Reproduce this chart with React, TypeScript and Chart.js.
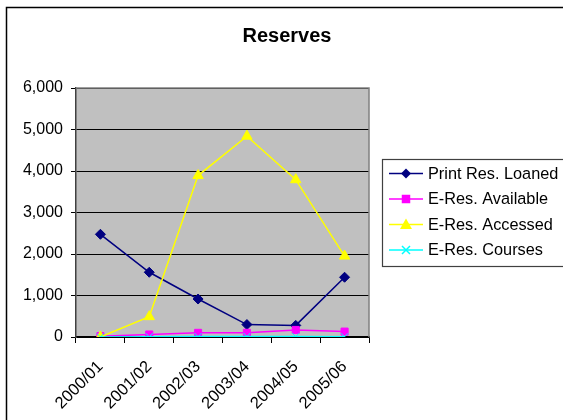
import React, { useEffect, useRef } from "react";
import { Chart, registerables } from "chart.js";

Chart.register(...registerables);

const categories = ["2000/01", "2001/02", "2002/03", "2003/04", "2004/05", "2005/06"];
const printLoaned = [2475, 1560, 915, 300, 280, 1440];
const eAvailable = [20, 60, 100, 100, 170, 130];
const eAccessed = [0, 490, 3890, 4840, 3790, 1950];
const eCourses = [0, 5, 10, 15, 10, 5];
const yTicks = [0, 1000, 2000, 3000, 4000, 5000, 6000];
const titleText = "Reserves";

const FONT = "'Liberation Sans', Arial, sans-serif";

function drawMarker(ctx: CanvasRenderingContext2D, style: string, x: number, y: number, r: number, color: string) {
  ctx.save();
  ctx.fillStyle = color;
  ctx.strokeStyle = color;
  ctx.lineWidth = 1.5;
  ctx.beginPath();
  if (style === "rectRot") {
    ctx.moveTo(x, y - r);
    ctx.lineTo(x + r, y);
    ctx.lineTo(x, y + r);
    ctx.lineTo(x - r, y);
    ctx.closePath();
    ctx.fill();
  } else if (style === "rect") {
    const s = r * 0.85;
    ctx.rect(x - s, y - s, 2 * s, 2 * s);
    ctx.fill();
  } else if (style === "triangle") {
    ctx.moveTo(x, y - r);
    ctx.lineTo(x + r, y + r * 0.75);
    ctx.lineTo(x - r, y + r * 0.75);
    ctx.closePath();
    ctx.fill();
  } else {
    const s = r * 0.8;
    ctx.moveTo(x - s, y - s);
    ctx.lineTo(x + s, y + s);
    ctx.moveTo(x + s, y - s);
    ctx.lineTo(x - s, y + s);
    ctx.stroke();
  }
  ctx.restore();
}

const framePlugin = {
  id: "frame",
  beforeDraw(chart: any) {
    const { ctx, chartArea } = chart;
    ctx.save();
    ctx.fillStyle = "#ffffff";
    ctx.fillRect(0, 0, chart.width, chart.height);
    ctx.fillStyle = "#C0C0C0";
    ctx.fillRect(chartArea.left, chartArea.top, chartArea.right - chartArea.left, chartArea.bottom - chartArea.top);
    ctx.strokeStyle = "#000000";
    ctx.lineWidth = 1.5;
    ctx.beginPath();
    ctx.moveTo(6.5, chart.height);
    ctx.lineTo(6.5, 7.5);
    ctx.lineTo(chart.width, 7.5);
    ctx.stroke();
    ctx.restore();
  },
  afterDraw(chart: any) {
    const { ctx, chartArea } = chart;
    ctx.save();
    ctx.strokeStyle = "#808080";
    ctx.lineWidth = 1.5;
    ctx.beginPath();
    ctx.moveTo(chartArea.left, chartArea.top);
    ctx.lineTo(chartArea.right, chartArea.top);
    ctx.lineTo(chartArea.right, chartArea.bottom);
    ctx.stroke();
    ctx.fillStyle = "#000";
    ctx.font = `bold 20px ${FONT}`;
    ctx.textAlign = "center";
    ctx.textBaseline = "alphabetic";
    ctx.fillText(titleText, 287, 42);
    const bx = 382.5, by = 159.5, bw = 200, bh = 107;
    ctx.fillStyle = "#ffffff";
    ctx.fillRect(bx, by, bw, bh);
    ctx.strokeStyle = "#404040";
    ctx.lineWidth = 1.2;
    ctx.strokeRect(bx, by, bw, bh);
    const ys = [173.5, 199, 224.5, 250];
    chart.data.datasets.forEach((ds: any, i: number) => {
      const y = ys[i];
      ctx.strokeStyle = ds.borderColor;
      ctx.lineWidth = 1.5;
      ctx.beginPath();
      ctx.moveTo(389, y);
      ctx.lineTo(423, y);
      ctx.stroke();
      drawMarker(ctx, ds.pointStyle, 406, y, ds.pointRadius, ds.borderColor);
      ctx.fillStyle = "#000";
      ctx.font = `16.3px ${FONT}`;
      ctx.textAlign = "left";
      ctx.textBaseline = "middle";
      ctx.fillText(ds.label, 428, y + 1);
    });
    ctx.restore();
  },
};

export default function App() {
  const ref = useRef<HTMLCanvasElement>(null);
  useEffect(() => {
    if (!ref.current) return;
    const mk = (label: string, data: number[], color: string, pointStyle: string, radius: number, order: number) => ({
      label,
      data,
      borderColor: color,
      backgroundColor: color,
      pointBackgroundColor: color,
      pointBorderColor: color,
      pointStyle,
      pointRadius: radius,
      pointBorderWidth: 1,
      borderWidth: 1.5,
      tension: 0,
      order,
    });
    const chart = new Chart(ref.current, {
      type: "line",
      data: {
        labels: categories,
        datasets: [
          mk("Print Res. Loaned", printLoaned, "#000080", "rectRot", 5, 4),
          mk("E-Res. Available", eAvailable, "#FF00FF", "rect", 5, 3),
          mk("E-Res. Accessed", eAccessed, "#FFFF00", "triangle", 6, 2),
          mk("E-Res. Courses", eCourses, "#00FFFF", "crossRot", 5, 1),
        ] as any,
      },
      options: {
        responsive: false,
        animation: false,
        layout: { padding: { left: 0, right: 194, top: 88, bottom: 0 } },
        plugins: {
          legend: { display: false },
          title: { display: false },
          tooltip: { enabled: false },
        },
        scales: {
          x: {
            type: "category",
            offset: true,
            grid: {
              offset: true,
              drawOnChartArea: false,
              drawTicks: true,
              tickLength: 6,
              color: "#000",
            },
            border: { color: "#000", width: 1.5 },
            ticks: {
              color: "#000",
              font: { family: FONT, size: 16.5 },
              maxRotation: 45,
              minRotation: 45,
              padding: 14,
              autoSkip: false,
            },
            afterFit: (s: any) => {
              s.height = 83;
            },
          },
          y: {
            min: 0,
            max: 6000,
            afterBuildTicks: (s: any) => {
              s.ticks = yTicks.map((v) => ({ value: v }));
            },
            grid: {
              color: "#000",
              lineWidth: 1,
              tickLength: 5,
              drawTicks: true,
            },
            border: { color: "#404040", width: 1.5 },
            ticks: {
              color: "#000",
              font: { family: FONT, size: 16 },
              padding: 8,
              callback: (v: any) => Number(v).toLocaleString("en-US"),
            },
            afterFit: (s: any) => {
              s.width = 76;
            },
          },
        },
      },
      plugins: [framePlugin],
    });
    return () => chart.destroy();
  }, []);
  return (
    <div style={{ position: "fixed", left: 0, top: 0, width: 563, height: 420 }}>
      <canvas ref={ref} width={563} height={420} style={{ width: 563, height: 420 }} />
    </div>
  );
}
